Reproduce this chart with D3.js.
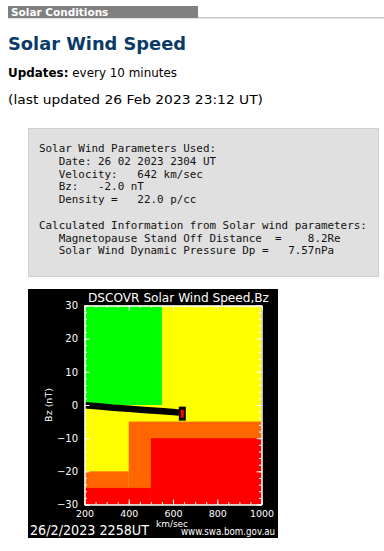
<!DOCTYPE html>
<html>
<head>
<meta charset="utf-8">
<script src="https://cdn.jsdelivr.net/npm/d3@7"></script>
<style>
  body { margin: 0; background: #fff; }
  svg text { white-space: pre; }
</style>
</head>
<body>
<svg id="page"></svg>
<script>
// solar wind track (speed km/s, Bz nT)
var trackSpeed = [200, 260, 330, 400, 470, 540, 600, 627];
var trackBz = [-0.1, -0.4, -0.8, -1.1, -1.5, -1.8, -2.1, -2.3];
var nowSpeed = 642;
var nowBz = -2.0;

// coloured zones: speed range, Bz range, level
var zoneV0 = [200, 400, 200, 500, 200];
var zoneV1 = [550, 1000, 400, 1000, 500];
var zoneB0 = [0, -30, -30, -30, -30];
var zoneB1 = [30, -5, -20, -10, -25];
var zoneLevel = ['quiet', 'active', 'active', 'storm', 'storm'];

var xTicks = [200, 400, 600, 800, 1000];
var xTickLabels = ['200', '400', '600', '800', '1000'];
var yTicks = [30, 20, 10, 0, -10, -20, -30];

var paramLines = [
    'Solar Wind Parameters Used:',
    '   Date: 26 02 2023 2304 UT',
    '   Velocity:   642 km/sec',
    '   Bz:   -2.0 nT',
    '   Density =   22.0 p/cc',
    '',
    'Calculated Information from Solar wind parameters:',
    '   Magnetopause Stand Off Distance  =    8.2Re',
    '   Solar Wind Dynamic Pressure Dp =   7.57nPa'
];

function drawPage() {
    var svg = d3.select('#page').attr('width', 384).attr('height', 551);

    // header bar
    svg.append('rect').attr('x', 8).attr('y', 17).attr('width', 376).attr('height', 1.5).attr('fill', '#c8c8c8');
    svg.append('rect').attr('x', 8).attr('y', 6).attr('width', 190).attr('height', 12).attr('fill', '#808080');
    svg.append('text').attr('x', 11).attr('y', 16)
        .attr('font-family', 'DejaVu Sans').attr('font-weight', 'bold').attr('font-size', 10.5)
        .attr('fill', '#fff').text('Solar Conditions');

    svg.append('text').attr('x', 8).attr('y', 50)
        .attr('font-family', 'DejaVu Sans').attr('font-weight', 'bold').attr('font-size', 18.5)
        .attr('fill', '#0b3a68').attr('textLength', 178).attr('lengthAdjust', 'spacingAndGlyphs')
        .text('Solar Wind Speed');

    var upd = svg.append('text').attr('x', 8).attr('y', 77)
        .attr('font-family', 'DejaVu Sans').attr('font-size', 12.5).attr('fill', '#000')
        .attr('textLength', 169).attr('lengthAdjust', 'spacingAndGlyphs');
    upd.append('tspan').attr('font-weight', 'bold').text('Updates:');
    upd.append('tspan').text(' every 10 minutes');

    svg.append('text').attr('x', 8).attr('y', 104)
        .attr('font-family', 'DejaVu Sans').attr('font-size', 12.5).attr('fill', '#000')
        .attr('textLength', 255).attr('lengthAdjust', 'spacingAndGlyphs')
        .text('(last updated 26 Feb 2023 23:12 UT)');

    // parameters box
    svg.append('rect').attr('x', 28.5).attr('y', 128.5).attr('width', 350).attr('height', 148)
        .attr('fill', '#e0e0e0').attr('stroke', '#cfcfcf');
    svg.append('g').selectAll('text').data(paramLines).enter().append('text')
        .attr('x', 39).attr('y', (d, i) => 152 + i * 12.8)
        .attr('font-family', 'DejaVu Sans Mono').attr('font-size', 10.9).attr('fill', '#111')
        .text(d => d);

    drawChart(svg);
}

function drawChart(svg) {
    var box = { x: 28, y: 289, w: 250, h: 249 };
    var plot = { left: 84.5, right: 261.5, top: 305.5, bottom: 504.5 };

    svg.append('rect').attr('x', box.x).attr('y', box.y).attr('width', box.w).attr('height', box.h).attr('fill', '#000');

    var x = d3.scaleLinear().domain([200, 1000]).range([plot.left, plot.right]);
    var y = d3.scaleLinear().domain([-30, 30]).range([plot.bottom, plot.top]);
    var levelColor = d3.scaleOrdinal().domain(['quiet', 'active', 'storm']).range(['#00ff00', '#ff6600', '#ff0000']);

    svg.append('clipPath').attr('id', 'plotclip').append('rect')
        .attr('x', plot.left).attr('y', plot.top)
        .attr('width', plot.right - plot.left).attr('height', plot.bottom - plot.top);

    var g = svg.append('g').attr('clip-path', 'url(#plotclip)');
    g.append('rect').attr('x', x(200)).attr('y', y(30))
        .attr('width', x(1000) - x(200)).attr('height', y(-30) - y(30)).attr('fill', '#ffff00');

    g.selectAll('rect.zone').data(zoneLevel).enter().append('rect')
        .attr('class', 'zone')
        .attr('x', (d, i) => x(zoneV0[i]))
        .attr('y', (d, i) => y(zoneB1[i]))
        .attr('width', (d, i) => x(zoneV1[i]) - x(zoneV0[i]))
        .attr('height', (d, i) => y(zoneB0[i]) - y(zoneB1[i]))
        .attr('fill', d => levelColor(d));

    var track = trackSpeed.map((v, i) => [v, trackBz[i]]);
    g.append('path').datum(track)
        .attr('d', d3.line().x(d => x(d[0])).y(d => y(d[1])))
        .attr('fill', 'none').attr('stroke', '#000').attr('stroke-width', 6.5);

    g.append('rect').attr('x', x(nowSpeed) - 3.5).attr('y', y(nowBz) - 5)
        .attr('width', 7).attr('height', 14).attr('fill', '#000');
    g.append('rect').attr('x', x(nowSpeed) - 1.5).attr('y', y(nowBz) - 2)
        .attr('width', 3).attr('height', 8).attr('fill', '#ff0000');

    // axes with inward ticks
    var white = sel => {
        sel.selectAll('path, line').attr('stroke', '#fff');
        sel.selectAll('text').attr('fill', '#fff');
    };
    var xMinor = d3.range(200, 1001, 50);
    var yMinor = d3.range(-30, 31, 2);

    var bottom = svg.append('g').attr('transform', 'translate(0,' + plot.bottom + ')')
        .call(d3.axisBottom(x).tickValues(xTicks).tickSize(-5).tickSizeOuter(0).tickPadding(5.5).tickFormat((d, i) => xTickLabels[i]));
    bottom.selectAll('text').attr('font-family', 'DejaVu Sans').attr('font-size', 9.5);
    bottom.call(white);
    svg.append('g').attr('transform', 'translate(0,' + plot.bottom + ')')
        .call(d3.axisBottom(x).tickValues(xMinor).tickSize(-2.5).tickSizeOuter(0).tickFormat('')).call(white);
    svg.append('g').attr('transform', 'translate(0,' + plot.top + ')')
        .call(d3.axisTop(x).tickValues(xTicks).tickSize(-5).tickSizeOuter(0).tickFormat('')).call(white);
    svg.append('g').attr('transform', 'translate(0,' + plot.top + ')')
        .call(d3.axisTop(x).tickValues(xMinor).tickSize(-2.5).tickSizeOuter(0).tickFormat('')).call(white);

    var left = svg.append('g').attr('transform', 'translate(' + plot.left + ',0)')
        .call(d3.axisLeft(y).tickValues(yTicks).tickSize(-5).tickSizeOuter(0).tickPadding(6.5).tickFormat(d => String(d).replace('-', '\u2212')));
    left.selectAll('text').attr('font-family', 'DejaVu Sans').attr('font-size', 10);
    left.call(white);
    svg.append('g').attr('transform', 'translate(' + plot.left + ',0)')
        .call(d3.axisLeft(y).tickValues(yMinor).tickSize(-2.5).tickSizeOuter(0).tickFormat('')).call(white);
    svg.append('g').attr('transform', 'translate(' + plot.right + ',0)')
        .call(d3.axisRight(y).tickValues(yTicks).tickSize(-5).tickSizeOuter(0).tickFormat('')).call(white);
    svg.append('g').attr('transform', 'translate(' + plot.right + ',0)')
        .call(d3.axisRight(y).tickValues(yMinor).tickSize(-2.5).tickSizeOuter(0).tickFormat('')).call(white);

    // labels
    svg.append('text').attr('x', 88).attr('y', 302)
        .attr('font-family', 'DejaVu Sans').attr('font-size', 12.5).attr('fill', '#fff')
        .attr('textLength', 181).attr('lengthAdjust', 'spacingAndGlyphs')
        .text('DSCOVR Solar Wind Speed,Bz');

    svg.append('text').attr('transform', 'translate(52,' + ((plot.top + plot.bottom) / 2) + ') rotate(-90)')
        .attr('text-anchor', 'middle')
        .attr('font-family', 'DejaVu Sans').attr('font-size', 9.5).attr('fill', '#fff')
        .text('Bz (nT)');

    svg.append('text').attr('x', 30).attr('y', 535)
        .attr('font-family', 'DejaVu Sans').attr('font-size', 14).attr('fill', '#fff')
        .attr('textLength', 119).attr('lengthAdjust', 'spacingAndGlyphs')
        .text('26/2/2023 2258UT');
    svg.append('text').attr('x', 156).attr('y', 527)
        .attr('font-family', 'DejaVu Sans').attr('font-size', 8.5).attr('fill', '#fff')
        .attr('textLength', 32).attr('lengthAdjust', 'spacingAndGlyphs')
        .text('km/sec');
    svg.append('text').attr('x', 181).attr('y', 535)
        .attr('font-family', 'DejaVu Sans').attr('font-size', 11).attr('fill', '#fff')
        .attr('textLength', 94).attr('lengthAdjust', 'spacingAndGlyphs')
        .text('www.swa.bom.gov.au');
}

drawPage();
</script>
</body>
</html>
